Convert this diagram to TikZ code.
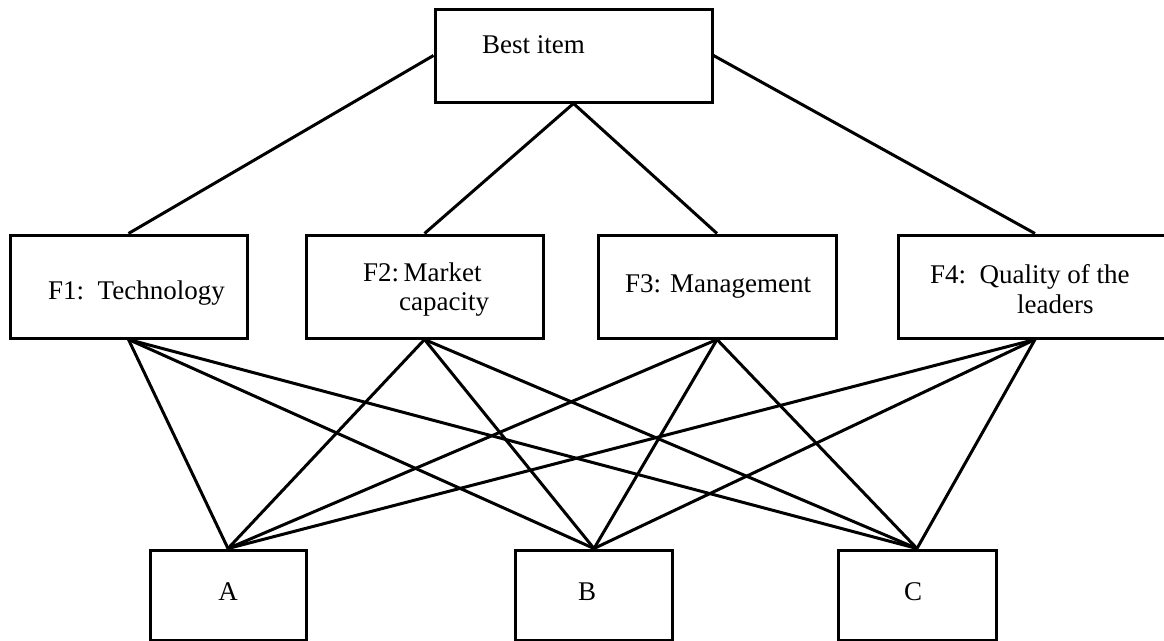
\documentclass[tikz,border=0pt]{standalone}
\usepackage{fontspec}
\setmainfont{Liberation Serif}
\begin{document}
\begin{tikzpicture}[x=1pt,y=-1pt,
  box/.style={draw, line width=3pt, inner sep=0pt, minimum height=103pt},
  lbl/.style={inner sep=0pt, font=\fontsize{27}{32}\selectfont},
  conn/.style={line width=3pt}]
\useasboundingbox (0,0) rectangle (1164,640);
\clip (0,0) rectangle (1164,640);
% boxes
\node[box, minimum width=277pt, minimum height=93pt] (best) at (573.5,55.5) {};
\node[box, minimum width=237pt] (f1) at (128.5,286.5) {};
\node[box, minimum width=237pt] (f2) at (424.5,286.5) {};
\node[box, minimum width=238pt] (f3) at (717,286.5) {};
\node[box, minimum width=274pt] (f4) at (1035,286.5) {};
\node[box, minimum width=156pt, minimum height=90pt] (a) at (228,595) {};
\node[box, minimum width=157pt, minimum height=90pt] (b) at (594,595) {};
\node[box, minimum width=158pt, minimum height=90pt] (c) at (917,595) {};
% texts
\node[lbl, anchor=base west] (tbest) at (482,53) {Best item};
\node[lbl, anchor=base west] (tf1) at (48,299) {F1:\hspace{0.5em}Technology};
\node[lbl, anchor=base west] (tf2a) at (363,281) {F2:\,Market};
\node[lbl, anchor=base west] (tf2b) at (399,310) {capacity};
\node[lbl, anchor=base west] (tf3) at (625,292) {F3: Management};
\node[lbl, anchor=base west] (tf4a) at (930,283) {F4:\hspace{0.5em}Quality of the};
\node[lbl, anchor=base west] (tf4b) at (1017,313) {leaders};
\node[lbl] (ta) at (228,592) {A};
\node[lbl] (tb) at (587,592) {B};
\node[lbl] (tc) at (913,592) {C};
% connectors
\draw[conn] (best.west) -- (f1.north);
\draw[conn] (best.south) -- (f2.north);
\draw[conn] (best.south) -- (f3.north);
\draw[conn] (best.east) -- (f4.north);
\foreach \f in {f1,f2,f3,f4}{
  \foreach \g in {a,b,c}{
    \draw[conn] (\f.south) -- (\g.north);
  }
}
\end{tikzpicture}
\end{document}
